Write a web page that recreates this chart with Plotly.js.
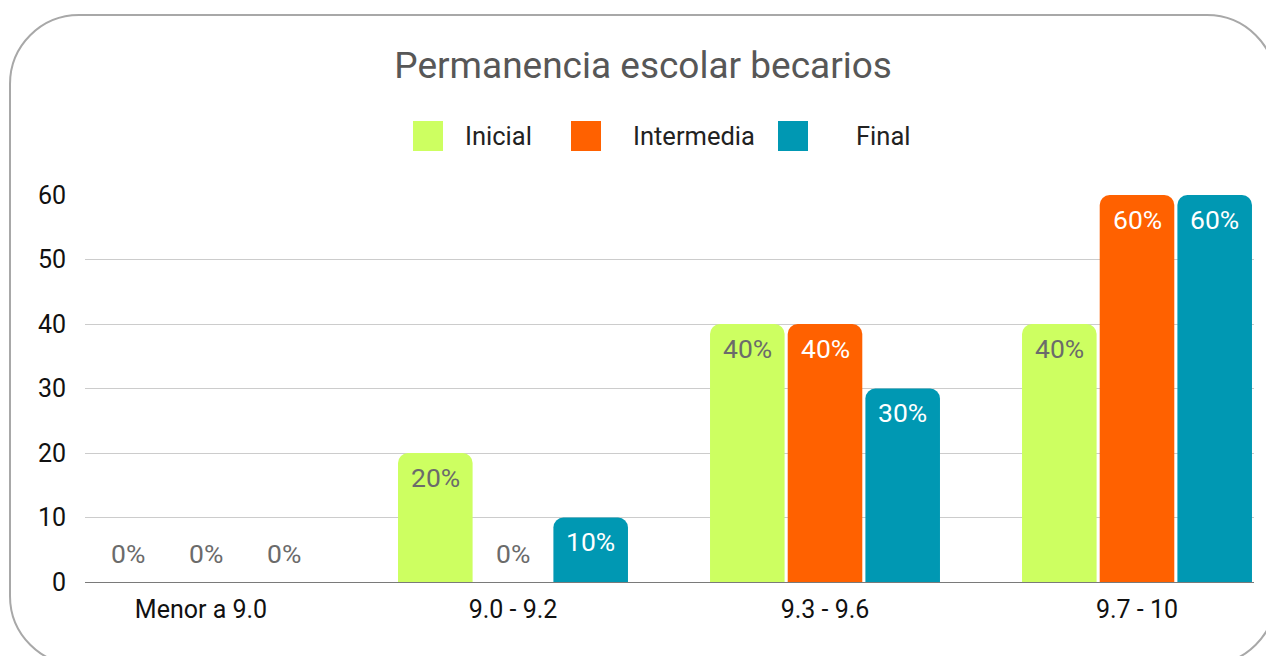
<!DOCTYPE html>
<html>
<head>
<meta charset="utf-8">
<script src="https://cdn.plot.ly/plotly-3.0.1.min.js"></script>
<style>
  html, body { margin: 0; padding: 0; width: 1266px; height: 656px; overflow: hidden; background: #ffffff; }
  #card { position: absolute; left: 9px; top: 14px; width: 1268px; height: 652px; border: 2px solid #a8a8a8; border-radius: 70px; box-sizing: border-box; }
  #chart { position: absolute; left: 0; top: 0; width: 1266px; height: 656px; }
</style>
</head>
<body>
<div id="card"></div>
<div id="chart"></div>
<script>
const categories = ["Menor a 9.0", "9.0 - 9.2", "9.3 - 9.6", "9.7 - 10"];
const seriesNames = ["Inicial", "Intermedia", "Final"];
const inicial = [0, 20, 40, 40];
const intermedia = [0, 0, 40, 60];
const final = [0, 10, 30, 60];
const yTicks = [0, 10, 20, 30, 40, 50, 60];

const seriesValues = [inicial, intermedia, final];
const colors = ["#cdff61", "#ff6100", "#0098b3"];
const insideTextColors = ["#6b6b6b", "#ffffff", "#ffffff"];
const zeroTextColor = "#6b6b6b";

const W = 1266, H = 656;
const M = { l: 85, r: 12, t: 195, b: 74 };
const plotW = W - M.l - M.r, plotH = H - M.t - M.b;
const px = x => (x - M.l) / plotW;
const py = y => (H - M.b - y) / plotH;

const bargap = 0.253;
const slot = (1 - bargap) / seriesNames.length;

const traces = seriesNames.map((name, s) => ({
  type: "bar",
  name: name,
  x: categories.map((c, i) => i),
  y: seriesValues[s],
  marker: { color: colors[s], cornerradius: 10, line: { width: 0 } },
  hoverinfo: "skip",
  showlegend: false
}));

const annotations = [];
seriesValues.forEach((vals, s) => {
  vals.forEach((v, i) => {
    annotations.push({
      x: i + (s - (seriesNames.length - 1) / 2) * slot,
      y: v,
      xref: "x", yref: "y",
      text: v + "%",
      showarrow: false,
      xanchor: "center", yanchor: "middle",
      xshift: (v === 0 && i === 0) ? 5 : 0,
      yshift: v === 0 ? 29 : -24,
      font: { family: "Roboto", size: 26.5, color: v === 0 ? zeroTextColor : insideTextColors[s] }
    });
  });
});

// Custom legend (large square swatches)
const legendSwatchX = [413, 571, 778];
const legendTextX = [463, 631, 854];
const shapes = [];
seriesNames.forEach((name, s) => {
  shapes.push({
    type: "rect", xref: "paper", yref: "paper",
    x0: px(legendSwatchX[s]), x1: px(legendSwatchX[s] + 30),
    y0: py(151), y1: py(121),
    fillcolor: colors[s], line: { width: 0 }
  });
  annotations.push({
    xref: "paper", yref: "paper",
    x: px(legendTextX[s]), y: py(136),
    xanchor: "left", yanchor: "middle",
    text: name, showarrow: false,
    font: { family: "Roboto", size: 25.5, color: "#222222" }
  });
});

const layout = {
  width: W, height: H,
  margin: M,
  paper_bgcolor: "rgba(0,0,0,0)",
  plot_bgcolor: "rgba(0,0,0,0)",
  title: {
    text: "Permanencia escolar becarios",
    font: { family: "Roboto", size: 37, color: "#575757" },
    x: 0.508, xanchor: "center",
    y: 1 - 65 / H, yanchor: "middle"
  },
  barmode: "group",
  bargap: bargap,
  bargroupgap: 0.04,
  showlegend: false,
  xaxis: {
    type: "linear",
    range: [(M.l - 201) / 312, (W - M.r - 201) / 312],
    tickmode: "array",
    tickvals: categories.map((c, i) => i),
    ticktext: categories,
    showgrid: false,
    zeroline: false,
    showline: false,
    ticks: "",
    ticklabelstandoff: 10,
    tickfont: { family: "Roboto", size: 25, color: "#111111" },
    fixedrange: true
  },
  yaxis: {
    range: [0, 60],
    tickmode: "array",
    tickvals: yTicks,
    ticktext: yTicks.map(String),
    showgrid: true,
    gridcolor: "#cccccc",
    gridwidth: 1,
    zeroline: true,
    zerolinecolor: "#7a7a7a",
    zerolinewidth: 1,
    showline: false,
    ticks: "",
    ticklabelstandoff: 18,
    tickfont: { family: "Roboto", size: 25, color: "#111111" },
    fixedrange: true
  },
  shapes: shapes,
  annotations: annotations
};

Plotly.newPlot("chart", traces, layout, { displayModeBar: false, staticPlot: true });
</script>
</body>
</html>
